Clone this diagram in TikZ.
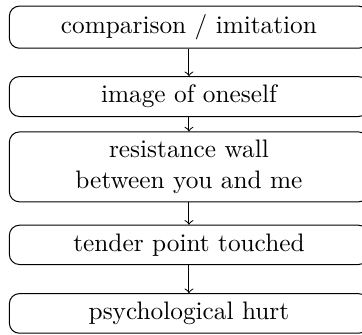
\documentclass[tikz,border=0pt]{standalone}
\usetikzlibrary{positioning}

\begin{document}
\begin{tikzpicture}[
		line width=0.4pt,
		node distance=3.8mm,
		box/.style={draw, rounded corners, minimum width=142pt, align=center},
		arrow/.style={->},
	]
	\useasboundingbox (0,0) rectangle (143.1pt,-132.4pt);
	\node (cmp) [box, anchor=north] at (74.7pt,-2.2pt) {comparison / imitation};
	\node (img) [box, below=of cmp] {image of oneself};
	\node (wall) [box, below=2mm of img] {resistance wall\\between you and me};
	\node (tender) [box, below=3.1mm of wall] {tender point touched};
	\node (hurt) [box, below=3.9mm of tender] {psychological hurt};
	
	\draw[arrow] (cmp.south) -- (img.north);
	\draw[arrow] (img.south) -- (wall.north);
	\draw[arrow] (wall.south) -- (tender.north);
	\draw[arrow] (tender.south) -- (hurt.north);
\end{tikzpicture}
\end{document}
